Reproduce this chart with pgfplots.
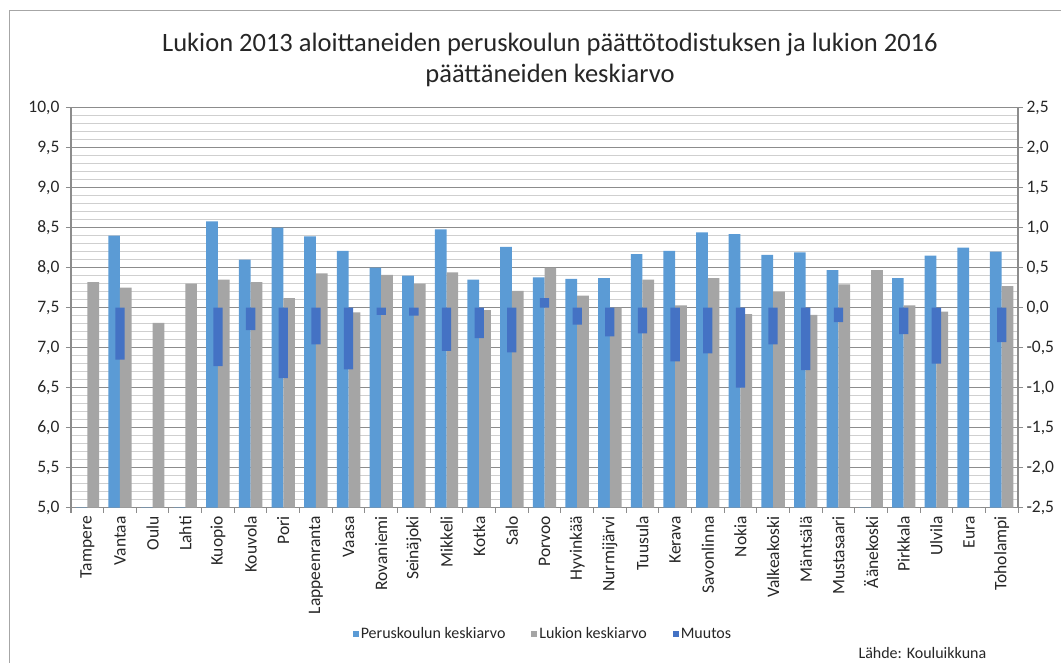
\documentclass[border=0pt]{standalone}
\usepackage{fontspec}
\setmainfont{Carlito}
\usepackage{pgfplots}
\usepackage{pgfplotstable}
\pgfplotsset{compat=1.18}
\definecolor{cBlue}{HTML}{5B9BD5}
\definecolor{cGrey}{HTML}{A5A5A5}
\definecolor{cDark}{HTML}{4472C4}
\definecolor{cAxis}{HTML}{8C8C8C}
\definecolor{cMinor}{HTML}{CFCFCF}
\definecolor{cFrame}{HTML}{A6A6A6}

\pgfplotstableread{
i pk lk mu
0 0 7.82 nan
1 8.40 7.75 -0.65
2 0 7.31 nan
3 0 7.80 nan
4 8.58 7.85 -0.73
5 8.10 7.82 -0.28
6 8.50 7.62 -0.88
7 8.39 7.93 -0.46
8 8.21 7.44 -0.77
9 8.00 7.91 -0.09
10 7.90 7.80 -0.10
11 8.48 7.94 -0.54
12 7.85 7.47 -0.38
13 8.26 7.71 -0.56
14 7.88 8.00 0.12
15 7.86 7.65 -0.21
16 7.87 7.50 -0.36
17 8.17 7.85 -0.32
18 8.21 7.53 -0.67
19 8.44 7.87 -0.57
20 8.42 7.42 -1.00
21 8.16 7.70 -0.46
22 8.19 7.41 -0.78
23 7.97 7.79 -0.18
24 0 7.97 nan
25 7.87 7.53 -0.33
26 8.15 7.45 -0.70
27 8.25 0 nan
28 8.20 7.77 -0.43
}\data

\begin{document}
\begin{tikzpicture}
\path[use as bounding box] (0pt,0pt) rectangle (1061pt,662pt);
\draw[cFrame, line width=1pt] (9pt,-5pt) -- (9pt,651pt) -- (1070pt,651pt);
\node[align=center, font=\fontsize{26.5}{31}\selectfont, text=black!85] at (550pt,602pt)
  {Lukion 2013 aloittaneiden peruskoulun päättötodistuksen ja lukion 2016\\päättäneiden keskiarvo};
\node[anchor=west, font=\fontsize{16}{18}\selectfont, text=black!85] at (855pt,9pt) {Lähde: Kouluikkuna};

\begin{axis}[
  at={(71pt,154.3pt)}, anchor=south west,
  scale only axis, width=947pt, height=400pt,
  xmin=-0.5, xmax=28.5, ymin=5, ymax=10,
  axis x line*=bottom, axis y line*=left,
  axis line style={cAxis, line width=1.5pt, -},
  xtick={-0.5,0.5,...,28.5},
  x tick label as interval,
  xticklabels={Tampere,Vantaa,Oulu,Lahti,Kuopio,Kouvola,Pori,Lappeenranta,Vaasa,Rovaniemi,Seinäjoki,Mikkeli,Kotka,Salo,Porvoo,Hyvinkää,Nurmijärvi,Tuusula,Kerava,Savonlinna,Nokia,Valkeakoski,Mäntsälä,Mustasaari,Äänekoski,Pirkkala,Ulvila,Eura,Toholampi},
  ytick={5,5.5,...,10},
  minor y tick num=4,
  ymajorgrids, yminorgrids,
  major grid style={cAxis, line width=1pt},
  minor grid style={cMinor, line width=1.2pt},
  tick align=outside, major tick length=5pt, minor tick length=0pt,
  tick style={cAxis, line width=1pt},
  ticklabel style={font=\fontsize{17.5}{20}\selectfont, text=black!85},
  xticklabel style={rotate=90, anchor=east},
  yticklabel style={xshift=-3pt},
  yticklabel={\pgfmathprintnumber[fixed,fixed zerofill,precision=1,use comma,assume math mode=true]{\tick}},
  ybar, bar width=11.7pt,
  legend columns=3,
  legend image code/.code={\fill[#1] (0pt,-3pt) rectangle (6pt,3pt);},
  legend style={draw=none, fill=none, at={(0.4984,-0.3158)}, anchor=center,
    font=\fontsize{16}{18}\selectfont, text=black!85,
    /tikz/every even column/.append style={column sep=24pt}},
]
\addplot[fill=cBlue, draw=none, bar shift=-5.85pt, forget plot] table[x=i,y=pk]{\data};
\addplot[fill=cGrey, draw=none, bar shift=5.85pt, forget plot] table[x=i,y=lk]{\data};
\addlegendimage{fill=cBlue, draw=none}
\addlegendentry{Peruskoulun keskiarvo}
\addlegendimage{fill=cGrey, draw=none}
\addlegendentry{Lukion keskiarvo}
\addlegendimage{fill=cDark, draw=none}
\addlegendentry{Muutos}
\end{axis}

\begin{axis}[
  at={(71pt,154.3pt)}, anchor=south west,
  scale only axis, width=947pt, height=400pt,
  xmin=-0.5, xmax=28.5, ymin=-2.5, ymax=2.5,
  axis x line=none, axis y line*=right,
  axis line style={cAxis, line width=1.5pt, -},
  ytick={-2.5,-2,...,2.5},
  tick align=outside, major tick length=5pt,
  tick style={cAxis, line width=1pt},
  ticklabel style={font=\fontsize{17.5}{20}\selectfont, text=black!85},
  yticklabel={\pgfmathprintnumber[fixed,fixed zerofill,precision=1,use comma,assume math mode=true]{\tick}},
  ybar, bar width=9.3pt,
]
\addplot[fill=cDark, draw=none, bar shift=0pt] table[x=i,y=mu]{\data};
\end{axis}
\end{tikzpicture}
\end{document}
